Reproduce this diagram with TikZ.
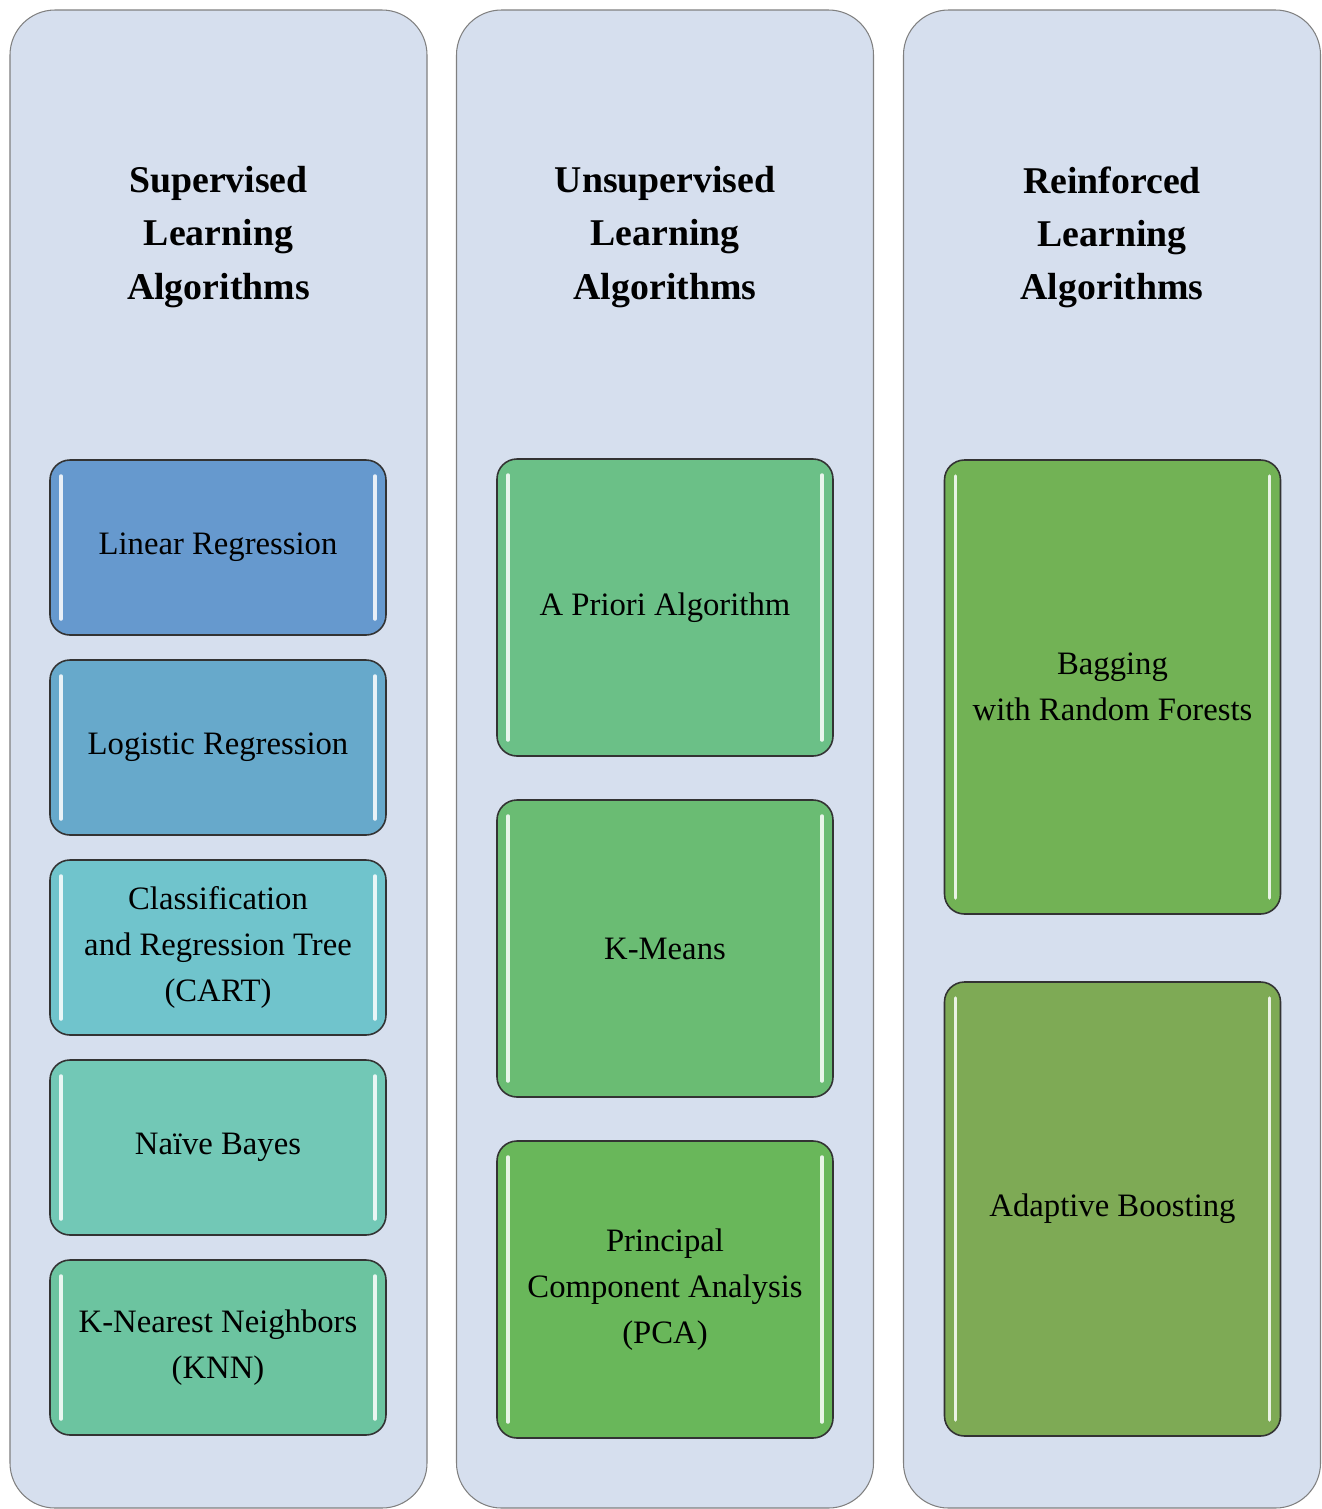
\documentclass[tikz,border=0pt]{standalone}
\usepackage{fontspec}
\setmainfont{Liberation Serif}
\usetikzlibrary{positioning}

\definecolor{panelbg}{HTML}{D6DFEE}
\definecolor{linregc}{HTML}{6699CE}
\definecolor{logregc}{HTML}{67A9CB}
\definecolor{cartc}{HTML}{70C4CC}
\definecolor{bayesc}{HTML}{72C8B6}
\definecolor{knnc}{HTML}{6CC4A0}
\definecolor{aprioric}{HTML}{6BC087}
\definecolor{kmeansc}{HTML}{6ABC73}
\definecolor{pcac}{HTML}{69B75A}
\definecolor{baggingc}{HTML}{72B255}
\definecolor{adaboostc}{HTML}{7EAA55}

\begin{document}
\begin{tikzpicture}[
	panel/.style = {rectangle, rounded corners = 0.9cm, draw = black!50, fill = panelbg, line width = 0.6pt, minimum width = 8.34cm, minimum height = 29.96cm, inner sep = 0},
	head/.style = {align = center, font = \bfseries\fontsize{21.5}{30.2}\selectfont},
	algo/.style = {rectangle, rounded corners = 0.4cm, draw = black!80, line width = 0.9pt, minimum width = 6.72cm, inner sep = 0, outer sep = 0, align = center, font = \fontsize{18.6}{26}\selectfont,
		path picture = {
			\draw [white, opacity = 0.85, line width = 2pt, line cap = round]
				([shift = {(0.22cm, -0.32cm)}] path picture bounding box.north west) -- ([shift = {(0.22cm, 0.32cm)}] path picture bounding box.south west)
				([shift = {(-0.22cm, -0.32cm)}] path picture bounding box.north east) -- ([shift = {(-0.22cm, 0.32cm)}] path picture bounding box.south east);
		}}]

	\useasboundingbox (0, 0) rectangle (26.44, -30.18);

	% columns
	\node [panel] (psup) at (4.37, -15.18) {};
	\node [panel] (punsup) at (13.3, -15.18) {};
	\node [panel] (preinf) at (22.24, -15.18) {};

	\node [head] (sup) at (4.37, -4.74) {Supervised\\Learning\\Algorithms};
	\node [head] (unsup) at (13.3, -4.74) {Unsupervised\\Learning\\Algorithms};
	\node [head] (reinf) at (22.24, -4.74) {Reinforced\\Learning\\Algorithms};

	% supervised
	\node [algo, minimum height = 3.5cm, fill = linregc] (linreg) at (4.36, -10.95) {Linear Regression};
	\node [algo, minimum height = 3.5cm, fill = logregc, below = 0.5cm of linreg] (logreg) {Logistic Regression};
	\node [algo, minimum height = 3.5cm, fill = cartc, below = 0.5cm of logreg] (cart) {Classification\\and Regression Tree\\(CART)};
	\node [algo, minimum height = 3.5cm, fill = bayesc, below = 0.5cm of cart] (bayes) {Naïve Bayes};
	\node [algo, minimum height = 3.5cm, fill = knnc, below = 0.5cm of bayes] (knn) {K-Nearest Neighbors\\(KNN)};

	% unsupervised
	\node [algo, minimum height = 5.94cm, fill = aprioric] (apriori) at (13.3, -12.15) {A Priori Algorithm};
	\node [algo, minimum height = 5.94cm, fill = kmeansc, below = 0.88cm of apriori] (kmeans) {K-Means};
	\node [algo, minimum height = 5.94cm, fill = pcac, below = 0.88cm of kmeans] (pca) {Principal\\Component Analysis\\(PCA)};

	% reinforced
	\node [algo, minimum height = 9.08cm, fill = baggingc] (bagging) at (22.25, -13.74) {Bagging\\with Random Forests};
	\node [algo, minimum height = 9.08cm, fill = adaboostc, below = 1.36cm of bagging] (adaboost) {Adaptive Boosting};

\end{tikzpicture}
\end{document}
